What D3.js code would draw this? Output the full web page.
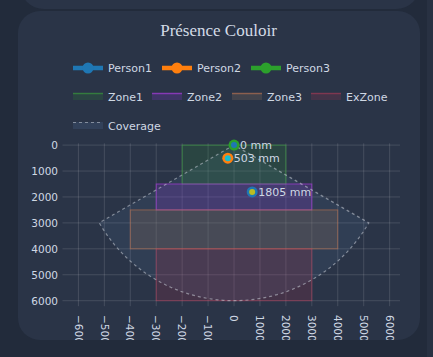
<!DOCTYPE html>
<html><head><meta charset="utf-8">
<script src="https://cdn.jsdelivr.net/npm/d3@7"></script>
<style>html,body{margin:0;padding:0;background:#222b3b;overflow:hidden}</style>
</head><body>
<svg id="c" width="433" height="357"></svg>
<script>
// ---- data ----
const title = "Présence Couloir";
const persons = ["Person1", "Person2", "Person3"];
const personColors = ["#1f77b4", "#ff7f0e", "#2ca02c"];
const personInner = ["#bcbd22", "#17becf", "#1f77b4"];
const personX = [700, -240, 0];
const personY = [1805, 503, 0];
const personLabels = ["1805 mm", "503 mm", "0 mm"];
const zones = ["Zone1", "Zone2", "Zone3", "ExZone"];
const zoneX0 = [-2000, -3000, -4000, -3000];
const zoneX1 = [2000, 3000, 4000, 3000];
const zoneY0 = [0, 1500, 2500, 4000];
const zoneY1 = [1500, 2500, 4000, 6000];
const zoneFill = ["rgba(44,160,44,0.16)", "rgba(135,55,205,0.24)", "rgba(140,110,90,0.25)", "rgba(200,50,80,0.17)"];
const zoneStroke = ["rgba(60,170,60,0.55)", "rgba(165,60,215,0.7)", "rgba(190,115,80,0.6)", "rgba(200,60,90,0.45)"];
const coverageRange = 6000;
const coverageHalfAngle = 60;
const xTicks = [-6000,-5000,-4000,-3000,-2000,-1000,0,1000,2000,3000,4000,5000,6000];
const yTicks = [0,1000,2000,3000,4000,5000,6000];

const svg = d3.select("#c");
const txt = "#cfd8e4";
// background cards
svg.append("rect").attr("x",0).attr("y",0).attr("width",433).attr("height",357).attr("fill","#222b3b");
svg.append("rect").attr("x",427).attr("y",0).attr("width",6).attr("height",357).attr("fill","#283142");
svg.append("rect").attr("x",20).attr("y",-60).attr("width",400).attr("height",69).attr("rx",24).attr("fill","#2a3447");
svg.append("defs").append("clipPath").attr("id","card").append("rect")
  .attr("x",18).attr("y",11).attr("width",402).attr("height",329).attr("rx",22);
svg.append("rect").attr("x",18).attr("y",11).attr("width",402).attr("height",329).attr("rx",22).attr("fill","#2a3447");
const g = svg.append("g").attr("clip-path","url(#card)");

g.append("text").attr("x",218.5).attr("y",36).attr("text-anchor","middle")
  .attr("font-family","'Liberation Serif', serif").attr("font-size",17).attr("fill","#d3dbe6").text(title);

const x = d3.scaleLinear().domain([-6440, 6400]).range([67, 400]);
const y = d3.scaleLinear().domain([-69, 6000]).range([143.3, 300.7]);
const grid = "rgba(255,255,255,0.13)";

// grid
g.selectAll(".gx").data(xTicks).join("line").attr("x1",d=>x(d)).attr("x2",d=>x(d))
  .attr("y1",y(-69)).attr("y2",y(6000)+5.5).attr("stroke",grid).attr("stroke-width",1);
g.selectAll(".gy").data(yTicks).join("line").attr("y1",d=>y(d)).attr("y2",d=>y(d))
  .attr("x1",x(-6440)-4.5).attr("x2",x(6400)).attr("stroke",grid).attr("stroke-width",1);

// axes labels
const tf = "'DejaVu Sans', sans-serif";
g.selectAll(".ly").data(yTicks).join("text").attr("x",58).attr("y",d=>y(d)+3.8)
  .attr("text-anchor","end").attr("font-family",tf).attr("font-size",10.5).attr("fill",txt).text(d=>d);
g.selectAll(".lx").data(xTicks).join("text")
  .attr("transform",d=>`translate(${x(d)-3.8},315) rotate(90)`)
  .attr("text-anchor","start").attr("font-family",tf).attr("font-size",10.5).attr("fill",txt)
  .text(d=>d<0?"\u2212"+Math.abs(d):d);

// coverage
const ang = d3.range(-coverageHalfAngle, coverageHalfAngle+0.5, 2).map(a=>a*Math.PI/180);
const covPts = [[0,0]].concat(ang.map(a=>[coverageRange*Math.sin(a), coverageRange*Math.cos(a)])).concat([[0,0]]);
const line = d3.line().x(d=>x(d[0])).y(d=>y(d[1]));
g.append("path").attr("d",line(covPts)+"Z").attr("fill","rgba(90,130,180,0.13)").attr("stroke","none");

// zones
zones.forEach((z,i)=>{
  g.append("rect").attr("x",x(zoneX0[i])).attr("y",y(zoneY0[i]))
    .attr("width",x(zoneX1[i])-x(zoneX0[i])).attr("height",y(zoneY1[i])-y(zoneY0[i]))
    .attr("fill",zoneFill[i]).attr("stroke",zoneStroke[i]).attr("stroke-width",1);
});
g.append("path").attr("d",line(covPts)).attr("fill","none").attr("stroke","rgba(200,205,215,0.55)")
  .attr("stroke-width",1.2).attr("stroke-dasharray","3,3");

// persons
persons.forEach((p,i)=>{
  const cx = x(personX[i]), cy = y(personY[i]);
  g.append("circle").attr("cx",cx).attr("cy",cy).attr("r",5.5).attr("fill",personColors[i]);
  g.append("circle").attr("cx",cx).attr("cy",cy).attr("r",3).attr("fill",personInner[i]);
  g.append("text").attr("x",cx+6).attr("y",cy+4).attr("font-family",tf).attr("font-size",11)
    .attr("fill",txt).text(personLabels[i]);
});

// legend
const lf = 11;
const row1 = [73, 162, 251];
persons.forEach((p,i)=>{
  const lx = row1[i], ly = 68;
  g.append("line").attr("x1",lx).attr("x2",lx+30).attr("y1",ly).attr("y2",ly).attr("stroke",personColors[i]).attr("stroke-width",4.5);
  g.append("circle").attr("cx",lx+15).attr("cy",ly).attr("r",5.5).attr("fill",personColors[i]);
  g.append("text").attr("x",lx+35).attr("y",ly+4).attr("font-family",tf).attr("font-size",lf).attr("fill",txt).text(p);
});
const row2 = [73, 152, 232, 311];
zones.forEach((z,i)=>{
  const lx = row2[i], ly = 97;
  g.append("rect").attr("x",lx).attr("y",ly-4).attr("width",30).attr("height",7).attr("fill",zoneFill[i]);
  g.append("line").attr("x1",lx).attr("x2",lx+30).attr("y1",ly-3.5).attr("y2",ly-3.5).attr("stroke",zoneStroke[i]).attr("stroke-width",1.5);
  g.append("text").attr("x",lx+35).attr("y",ly+4).attr("font-family",tf).attr("font-size",lf).attr("fill",txt).text(z);
});
{
  const lx = 73, ly = 126;
  g.append("rect").attr("x",lx).attr("y",ly-4).attr("width",30).attr("height",7).attr("fill","rgba(90,130,180,0.18)");
  g.append("line").attr("x1",lx).attr("x2",lx+30).attr("y1",ly-3.5).attr("y2",ly-3.5).attr("stroke","rgba(200,205,215,0.55)").attr("stroke-width",1.2).attr("stroke-dasharray","3,3");
  g.append("text").attr("x",lx+35).attr("y",ly+4).attr("font-family",tf).attr("font-size",lf).attr("fill",txt).text("Coverage");
}
</script>
</body></html>
